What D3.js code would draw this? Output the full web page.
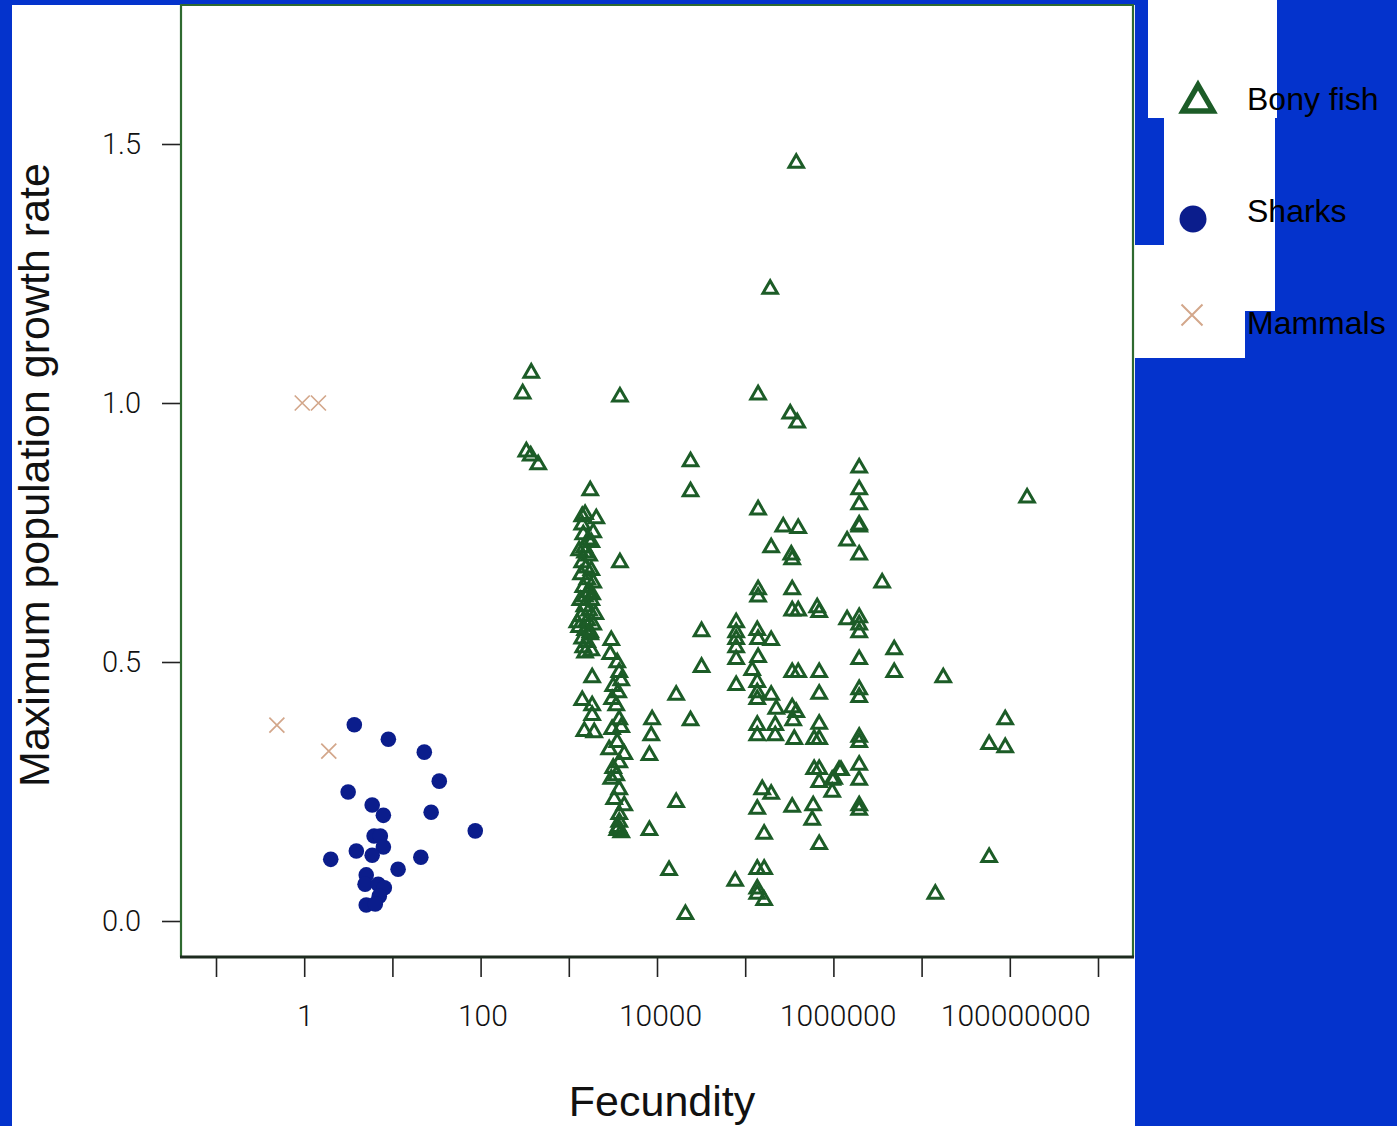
<!DOCTYPE html>
<html>
<head>
<meta charset="utf-8">
<script src="https://cdn.jsdelivr.net/npm/d3@7"></script>
<style>
  html, body { margin: 0; padding: 0; background: #0433cc; }
  svg { display: block; }
</style>
</head>
<body>
<svg id="chart" width="1397" height="1126"></svg>
<script>
// ---- data: [fecundity, maximum population growth rate] ----
const bonyFish = [
  // high-rate outliers
  [375, 1.062], [300, 1.022], [3800, 1.016], [330, 0.910], [370, 0.902], [450, 0.885],
  [24000, 0.891], [24000, 0.833], [3800, 0.696],
  // dense column near 1,500 eggs
  [1750, 0.835], [1420, 0.785], [1530, 0.789], [2050, 0.781], [1420, 0.769], [1890, 0.754],
  [1460, 0.750], [1660, 0.740], [1800, 0.735], [1500, 0.725], [1310, 0.719], [1530, 0.715],
  [1700, 0.709], [1420, 0.696], [1570, 0.686], [1800, 0.681], [1380, 0.673], [1620, 0.663],
  [1890, 0.657], [1460, 0.648], [1700, 0.638], [1840, 0.634], [1530, 0.630], [1350, 0.623],
  [1800, 0.623], [1500, 0.611], [1700, 0.603], [2000, 0.596], [1380, 0.592], [1620, 0.584],
  [1250, 0.580], [1890, 0.576], [1310, 0.571], [1530, 0.565], [1750, 0.561], [1750, 0.557],
  [1420, 0.549], [1620, 0.542], [1460, 0.532], [1800, 0.526], [1530, 0.522],
  [1840, 0.474], [1420, 0.430], [1840, 0.420], [1840, 0.401], [1500, 0.370], [1940, 0.368],
  // column near 3,500 eggs
  [3030, 0.546], [2950, 0.519], [3540, 0.503], [3730, 0.484], [3930, 0.468], [3190, 0.457],
  [3630, 0.445], [3100, 0.432], [3450, 0.420], [3730, 0.393], [3100, 0.374], [3930, 0.378],
  [3540, 0.349], [2870, 0.335], [4250, 0.326], [3730, 0.310], [3190, 0.299], [3450, 0.285],
  [3030, 0.278], [3730, 0.258], [3270, 0.239], [4250, 0.227], [3730, 0.210], [3730, 0.195],
  [3630, 0.185], [3540, 0.179], [3930, 0.175],
  // 10,000 - 50,000 eggs
  [16500, 0.440], [8800, 0.393], [8600, 0.362], [24000, 0.391], [8200, 0.324], [16500, 0.233],
  [8200, 0.179], [13700, 0.102], [21000, 0.017], [32000, 0.563], [32000, 0.494],
  // 100,000 - 1,000,000 eggs
  [379000, 1.467], [192000, 1.224], [140000, 1.020], [324000, 0.983], [389000, 0.966],
  [140000, 0.798], [270000, 0.765], [399000, 0.762], [197000, 0.725], [333000, 0.711],
  [341000, 0.702], [140000, 0.644], [140000, 0.630], [341000, 0.644], [341000, 0.603],
  [399000, 0.603], [655000, 0.609], [690000, 0.600], [79000, 0.580], [79000, 0.561],
  [79000, 0.548], [79000, 0.532], [79000, 0.509], [137000, 0.565], [140000, 0.548],
  [197000, 0.546], [140000, 0.513], [120000, 0.488], [79000, 0.459], [137000, 0.465],
  [137000, 0.445], [137000, 0.432], [197000, 0.440], [225000, 0.413], [341000, 0.484],
  [399000, 0.484], [690000, 0.484], [690000, 0.442], [341000, 0.416], [379000, 0.407],
  [350000, 0.391], [137000, 0.382], [137000, 0.362], [219000, 0.382], [219000, 0.362],
  [360000, 0.355], [690000, 0.384], [605000, 0.355], [690000, 0.355], [605000, 0.297],
  [690000, 0.297], [690000, 0.272], [1020000, 0.278], [1220000, 0.295], [969000, 0.253],
  [156000, 0.258], [197000, 0.249], [137000, 0.220], [341000, 0.224], [590000, 0.227],
  [575000, 0.199], [164000, 0.172], [690000, 0.152], [137000, 0.104], [164000, 0.104],
  [137000, 0.066], [137000, 0.056], [164000, 0.044], [77000, 0.081],
  // 1,000,000 eggs and above
  [1960000, 0.879], [1960000, 0.837], [1960000, 0.808], [1960000, 0.769], [1960000, 0.765],
  [1430000, 0.738], [1960000, 0.711], [3570000, 0.657], [1430000, 0.586], [1960000, 0.590],
  [1960000, 0.576], [1960000, 0.561], [1960000, 0.509], [1960000, 0.451], [1960000, 0.436],
  [4890000, 0.528], [4890000, 0.484], [17600000, 0.474], [1960000, 0.359], [1960000, 0.349],
  [1160000, 0.295], [969000, 0.276], [1960000, 0.305], [1960000, 0.276], [1960000, 0.227],
  [1960000, 0.218], [157000000, 0.821], [88700000, 0.393], [58300000, 0.345],
  [88700000, 0.339], [58300000, 0.127], [14300000, 0.056]
];

const sharks = [
  [3.7, 0.379], [9.0, 0.351], [23, 0.326], [34, 0.270], [3.15, 0.249], [5.9, 0.224],
  [7.9, 0.204], [27.5, 0.210], [87, 0.174], [6.2, 0.164], [7.3, 0.164], [7.9, 0.143],
  [3.9, 0.135], [5.9, 0.127], [2.0, 0.119], [21, 0.123], [11.6, 0.100], [5.05, 0.089],
  [4.9, 0.071], [6.9, 0.071], [8.1, 0.064], [7.1, 0.048], [5.05, 0.031], [6.4, 0.033]
];

const mammals = [
  [0.49, 0.378], [0.95, 1.0], [1.45, 1.0], [1.9, 0.328]
];

const xTickValues = [0.1, 1, 10, 100, 1e3, 1e4, 1e5, 1e6, 1e7, 1e8, 1e9];
const xTickLabels = ["", "1", "", "100", "", "10000", "", "1000000", "", "100000000", ""];
const yTickValues = [0, 0.5, 1.0, 1.5];
const yTickLabels = ["0.0", "0.5", "1.0", "1.5"];
const legendLabels = ["Bony fish", "Sharks", "Mammals"];

// ---- colours ----
const FISH = "#1c5c27";
const SHARK = "#0b1d8c";
const MAMMAL = "#d3a78b";

const svg = d3.select("#chart");

// white page and plot frame
const frame = { left: 181, right: 1133, top: 5, bottom: 957 };

svg.append("rect").attr("x", 12).attr("y", 5).attr("width", 1123).attr("height", 1121).attr("fill", "#fff");

// legend backing panels
const legendPanels = [
  [1148, 0, 129, 118],
  [1164, 118, 111, 127],
  [1135, 245, 140, 66],
  [1135, 311, 110, 47]
];
svg.selectAll("rect.lp").data(legendPanels).join("rect")
  .attr("class", "lp")
  .attr("x", d => d[0]).attr("y", d => d[1]).attr("width", d => d[2]).attr("height", d => d[3])
  .attr("fill", "#fff");

// scales
const x = d3.scaleLog().domain([0.1, 1e9]).range([216, 1098]);
const y = d3.scaleLinear().domain([0, 1.5]).range([921, 144]);

// axes
const tickFont = "Roboto, 'Liberation Sans', Arial, sans-serif";

const xAxis = d3.axisBottom(x)
  .tickValues(xTickValues)
  .tickSize(20)
  .tickPadding(28)
  .tickFormat((d, i) => xTickLabels[i]);

const gx = svg.append("g").attr("transform", `translate(0,${frame.bottom})`).call(xAxis);
gx.select(".domain").remove();
gx.selectAll(".tick line").attr("stroke", "#222").attr("stroke-width", 1.6);
gx.selectAll(".tick text")
  .attr("fill", "#111")
  .attr("dx", (d, i) => i * 0.6)
  .style("font-family", tickFont).style("font-weight", 300).style("font-size", "30px");

const yAxis = d3.axisLeft(y)
  .tickValues(yTickValues)
  .tickSize(19)
  .tickPadding(21)
  .tickFormat((d, i) => yTickLabels[i]);

const gy = svg.append("g").attr("transform", `translate(${frame.left},0)`).call(yAxis);
gy.select(".domain").remove();
gy.selectAll(".tick line").attr("stroke", "#222").attr("stroke-width", 1.6);
gy.selectAll(".tick text")
  .attr("fill", "#111")
  .style("font-family", tickFont).style("font-weight", 300).style("font-size", "29px");

// frame: green sides and top, dark baseline
svg.append("path")
  .attr("d", `M${frame.left},${frame.bottom} V${frame.top} H${frame.right} V${frame.bottom}`)
  .attr("fill", "none").attr("stroke", "#2f6a30").attr("stroke-width", 2.2);
svg.append("line")
  .attr("x1", frame.left - 1).attr("x2", frame.right + 1)
  .attr("y1", frame.bottom).attr("y2", frame.bottom)
  .attr("stroke", "#1d2b1f").attr("stroke-width", 3);

// axis titles
svg.append("text")
  .attr("transform", "translate(49,475) rotate(-90)")
  .attr("text-anchor", "middle")
  .attr("fill", "#111")
  .style("font-family", "'Liberation Sans', Arial, sans-serif")
  .style("font-size", "43px")
  .text("Maximum population growth rate");

svg.append("text")
  .attr("x", 662).attr("y", 1116)
  .attr("text-anchor", "middle")
  .attr("fill", "#111")
  .style("font-family", "'Liberation Sans', Arial, sans-serif")
  .style("font-size", "43px")
  .text("Fecundity");

// marker shapes
function trianglePath(side) {
  const h = side * Math.sqrt(3) / 2;
  return `M0,${-h / 2} L${side / 2},${h / 2} L${-side / 2},${h / 2} Z`;
}
function crossPath(half) {
  return `M${-half},${-half} L${half},${half} M${-half},${half} L${half},${-half}`;
}

const plot = svg.append("g");

plot.selectAll("path.mammal").data(mammals).join("path")
  .attr("class", "mammal")
  .attr("transform", d => `translate(${x(d[0])},${y(d[1])})`)
  .attr("d", crossPath(7.5))
  .attr("fill", "none").attr("stroke", MAMMAL).attr("stroke-width", 1.7);

plot.selectAll("circle.shark").data(sharks).join("circle")
  .attr("class", "shark")
  .attr("cx", d => x(d[0])).attr("cy", d => y(d[1]))
  .attr("r", 7.8)
  .attr("fill", SHARK);

plot.selectAll("path.fish").data(bonyFish).join("path")
  .attr("class", "fish")
  .attr("transform", d => `translate(${x(d[0])},${y(d[1])})`)
  .attr("d", trianglePath(14.5))
  .attr("fill", "none").attr("stroke", FISH).attr("stroke-width", 3).attr("stroke-linejoin", "miter");

// legend
const legendRows = [
  { label: legendLabels[0], sx: 1198, sy: 98, ty: 110 },
  { label: legendLabels[1], sx: 1193, sy: 219, ty: 222 },
  { label: legendLabels[2], sx: 1192, sy: 315, ty: 334 }
];

const lg = svg.append("g");
lg.append("path")
  .attr("transform", `translate(${legendRows[0].sx},${legendRows[0].sy})`)
  .attr("d", trianglePath(30))
  .attr("fill", "none").attr("stroke", FISH).attr("stroke-width", 5.5);
lg.append("circle")
  .attr("cx", legendRows[1].sx).attr("cy", legendRows[1].sy).attr("r", 13.5)
  .attr("fill", SHARK);
lg.append("path")
  .attr("transform", `translate(${legendRows[2].sx},${legendRows[2].sy})`)
  .attr("d", crossPath(10.5))
  .attr("fill", "none").attr("stroke", MAMMAL).attr("stroke-width", 2);

lg.selectAll("text").data(legendRows).join("text")
  .attr("x", 1247).attr("y", d => d.ty)
  .attr("fill", "#000")
  .style("font-family", "'Liberation Sans', Arial, sans-serif")
  .style("font-size", "32px")
  .text(d => d.label);
</script>
</body>
</html>
